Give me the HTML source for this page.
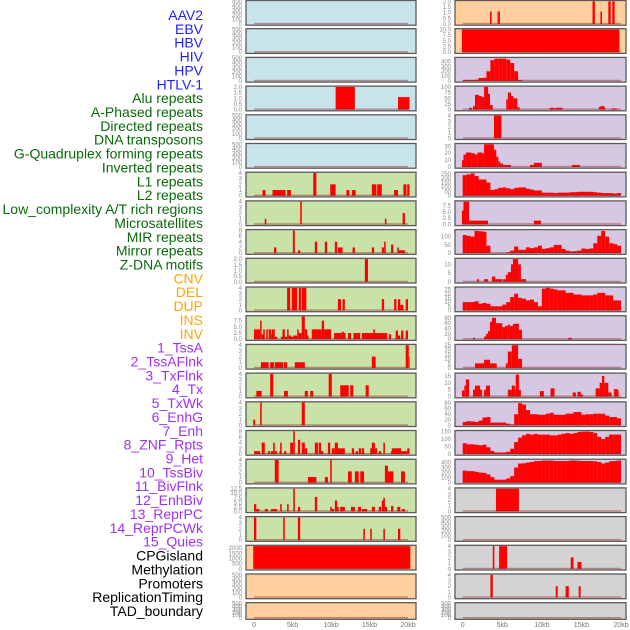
<!DOCTYPE html>
<html><head><meta charset="utf-8"><style>
html,body{margin:0;padding:0;background:#fff;width:630px;height:630px;overflow:hidden}
svg{display:block;font-family:"Liberation Sans",sans-serif}
</style></head><body>
<svg id="chart" width="630" height="630" viewBox="0 0 630 630" xmlns="http://www.w3.org/2000/svg"></svg>
<script>
// ---------- labels ----------
const labelNames = ["AAV2","EBV","HBV","HIV","HPV","HTLV-1","Alu repeats","A-Phased repeats","Directed repeats","DNA transposons","G-Quadruplex forming repeats","Inverted repeats","L1 repeats","L2 repeats","Low_complexity A/T rich regions","Microsatellites","MIR repeats","Mirror repeats","Z-DNA motifs","CNV","DEL","DUP","INS","INV","1_TssA","2_TssAFlnk","3_TxFlnk","4_Tx","5_TxWk","6_EnhG","7_Enh","8_ZNF_Rpts","9_Het","10_TssBiv","11_BivFlnk","12_EnhBiv","13_ReprPC","14_ReprPCWk","15_Quies","CPGisland","Methylation","Promoters","ReplicationTiming","TAD_boundary"];
const labelGroups = [6,13,5,15,5];
const groupColors = ["#1f1fff","#0a6a0a","#ffa500","#a030f0","#000000"];

// ---------- axis ----------
const xTicks = [0,5,10,15,20];
const xTickLabels = ["0","5kb","10kb","15kb","20kb"];

// ---------- tick sets ----------
const t500 = [0,100,200,300,400,500];
const t4 = [0,1,2,3,4];
const t2 = [0,0.5,1,1.5,2];
const t8 = [0,2,4,6,8];

// ---------- left column data: [startKb, endKb, value] ----------
const left03 = [[10.6,13.1,2],[18.7,20.2,1.1]];
const left06 = [[1.1,1.5,1],[2.4,4.1,1],[4.3,4.8,1],[7.7,8.1,4],[9.9,10.6,2],[12.0,12.4,1],[12.7,13.2,1],[15.3,15.9,2],[16.0,16.6,2],[18.2,18.7,1],[19.4,19.8,2],[19.9,20.2,2]];
const left07 = [[1.4,1.6,1],[6.0,6.2,4],[17.0,17.2,1],[19.3,19.6,2]];
const left08 = [[2.6,2.9,2],[5.05,5.3,8],[5.7,6.0,1],[7.9,8.2,4],[9.2,9.5,4],[10.5,10.8,4],[10.9,11.5,2],[12.8,13.1,2],[15.3,15.6,2],[16.6,16.9,2],[16.9,17.1,4],[17.8,18.1,3],[18.6,18.8,2],[18.8,19.6,1]];
const left09 = [[14.4,14.8,2]];
const left10 = [[4.3,4.7,4],[4.9,5.6,4],[5.8,6.1,4],[6.2,6.8,4],[10.9,11.3,2],[11.5,11.8,2],[16.6,16.9,2],[18.2,18.5,2],[18.7,19.0,2],[19.0,19.4,1],[19.7,20.0,2]];
const left11 = [[0,0.4,4],[0.4,0.8,4],[0.8,1.0,7.5],[1.0,1.3,2],[1.2,1.4,4],[1.6,1.8,4],[1.9,2.2,4],[2.2,2.3,2],[2.3,2.7,4],[2.7,3.0,1],[3.5,3.8,1],[3.7,4.0,4],[4.0,4.3,1],[4.3,4.5,4],[4.5,4.8,1.5],[4.8,5.1,1],[5.1,5.6,1.5],[5.6,5.8,4],[5.8,6.2,2.5],[6.2,6.6,9.2],[6.6,6.9,4],[6.9,7.1,1.5],[7.5,8.3,4],[8.3,8.8,4],[8.8,9.1,7.5],[9.1,10.0,4],[10.4,11.4,2.5],[11.4,11.7,3],[11.7,11.9,2.5],[12.2,12.6,2.5],[12.9,13.8,2.5],[14.0,17.3,2.5],[15.5,15.7,4],[17.5,17.8,2],[18.4,18.7,3.5],[18.7,19.0,1.5],[19.1,19.4,3.5],[19.7,20.0,3.5]];
const left12 = [[0.9,1.9,1],[2.1,2.6,1],[2.7,3.8,1],[3.9,4.3,1],[5.3,6.6,1],[15.3,15.8,2],[19.7,20.1,4],[20.1,20.2,2]];
const left13 = [[0.3,1.0,1],[2.1,2.5,4],[3.9,4.4,1],[6.6,7.0,1],[7.3,7.7,1],[9.7,10.1,4],[11.2,12.3,2],[12.5,12.9,2],[14.5,14.9,2]];
const left14 = [[-0.1,0.15,1],[0.8,1.0,4],[6.2,6.6,4]];
const left15 = [[0,0.4,1],[0.4,0.8,1],[1.0,1.4,4],[1.8,2.1,1],[2.2,2.5,1],[2.5,2.7,4],[2.7,3.0,1],[3.3,3.5,1],[3.4,3.6,4],[3.9,4.2,1],[4.7,5.1,4],[5.1,5.3,8],[5.7,6.0,5],[6.2,6.6,4],[6.6,6.9,2],[7.9,8.3,4],[8.4,8.7,4],[8.7,9.0,1],[9.6,9.9,4],[10.1,10.5,2],[10.5,10.9,4],[10.9,11.8,2],[12.7,13.0,2],[13.2,13.5,1],[13.6,13.9,2],[14.0,14.3,2],[15.1,15.5,2],[15.3,15.7,4],[15.7,16.0,2],[16.2,16.5,1],[16.8,17.0,4],[17.8,18.0,1],[17.9,19.1,2],[19.1,19.9,1],[19.9,20.2,2]];
const left16 = [[2.7,3.2,4],[7.0,8.1,1],[9.2,9.6,1],[9.9,10.1,4],[12.2,12.7,2],[13.1,13.6,2],[13.8,14.3,2],[17.0,17.4,3],[17.4,18.1,2],[19.1,19.6,2]];
const left17 = [[0,0.3,4],[0.3,0.7,1.3],[1.4,1.8,1.3],[2.2,3.0,1.3],[3.4,3.6,4],[4.3,4.5,4],[5.1,5.3,12.5],[5.7,6.0,2.5],[7.9,8.2,8],[9.9,10.1,2.5],[10.1,10.4,1.3],[10.5,10.8,6],[10.8,11.0,2.5],[11.2,11.8,2.5],[12.6,13.1,2.5],[13.5,13.9,2.5],[14.0,14.7,1.3],[15.3,15.7,2.5],[16.2,16.5,2.5],[16.6,16.9,6],[16.8,17.0,7.5],[17.0,17.3,2.5],[17.8,18.1,3],[18.6,19.0,2.5],[19.2,19.6,1.3]];
const left18 = [[0,0.3,4],[3.8,4.0,4],[5.7,6.0,4],[14.2,14.4,2],[15.1,15.3,2],[16.8,17.0,2],[18.7,19.0,2]];
const left19 = [[-0.1,20.3,2200]];

// ---------- right column data ----------
const right00 = [[3.45,3.65,1.1],[4.4,4.5,1.1],[4.5,4.7,1.1],[16.4,16.7,2],[17.4,17.6,1.1],[18.4,18.7,2],[18.9,19.2,2]];
const right01 = [[-0.1,19.8,10]];
// binned profiles: 0.5kb bins from 0 to 20kb
const right02Bins = [20,20,20,25,60,65,200,430,460,460,460,440,370,200,20,0,0,0,0,0,0,0,0,0,0,0,0,0,0,0,0,0,0,0,0,0,0,0,0,0];
const right03 = [[0.8,1.2,8],[1.3,1.55,15],[1.55,2.05,65],[2.05,2.4,60],[2.4,2.7,55],[2.7,3.2,100],[3.2,3.45,70],[3.45,3.8,20],[5.5,5.7,45],[5.7,6.1,75],[6.1,6.4,60],[6.4,6.9,50],[6.9,7.2,10],[11.0,11.6,8],[11.7,12.6,8],[17.2,17.4,12],[17.4,17.9,15],[17.9,18.0,10],[18.8,19.5,5]];
const right04 = [[3.95,4.9,4]];
const right05 = [[-0.1,0.1,10],[0.1,0.4,18],[0.4,1.1,21],[1.1,1.55,20],[1.55,1.85,18],[1.85,2.45,21],[2.45,2.7,20],[2.7,3.95,33],[3.95,4.25,25],[4.25,4.5,15],[4.5,4.75,8],[4.75,5.1,5],[5.1,6.1,3],[8.5,9.0,3],[9.0,10.0,6],[13.8,14.8,3]];
const right06Bins = [235,245,255,225,185,185,150,65,75,90,95,85,75,90,95,95,80,70,60,60,35,35,35,30,35,35,35,40,40,45,45,45,45,40,35,30,30,30,25,30];
const right07 = [[-0.1,0.1,5.5],[0.1,0.8,9],[0.8,3.2,1.5],[9.0,9.9,1.5]];
const right08Bins = [110,105,100,135,133,130,45,0,0,0,0,5,15,40,20,20,35,30,35,45,25,30,35,50,50,25,15,10,12,15,28,25,28,60,105,135,100,60,55,45];
const right09 = [[1.8,2.05,1.5],[2.7,3.2,1.5],[3.7,4.1,3],[4.1,5.0,1.5],[5.1,5.45,1.5],[5.45,5.7,4],[5.7,6.1,5.5],[6.1,6.35,10],[6.35,7.0,13],[7.0,7.35,10],[7.35,8.0,1.5]];
const right10Bins = [10,10,10,11,8,9,8,5,5,5,7,10,16,20,15,14,12,13,10,5,26,27,26,25,24,24,21,21,19,19,18,18,18,19,21,21,18,18,12,12];
const right11 = [[1.3,1.55,5],[2.7,2.95,10],[2.95,3.2,20],[3.2,3.45,30],[3.45,3.7,65],[3.7,4.2,80],[4.2,5.0,60],[5.0,5.35,45],[5.35,5.7,50],[5.7,5.95,55],[5.95,6.35,50],[6.35,6.6,57],[6.6,7.1,58],[7.1,7.5,35],[13.3,13.8,5]];
const right12 = [[1.55,2.7,5],[2.7,3.45,9],[3.45,4.3,5],[5.45,5.7,5],[5.7,6.2,18],[6.2,7.0,25],[7.0,7.5,10]];
const right13 = [[-0.1,0.2,4.5],[0.2,0.4,8],[0.4,0.8,12.5],[1.3,1.55,5],[1.55,2.2,8],[2.2,2.45,5],[2.7,2.95,5],[2.95,3.45,8],[5.7,6.2,5],[6.2,6.6,8],[6.6,6.7,5],[6.7,7.1,16],[7.1,7.35,5],[9.75,10.25,4],[11.1,11.6,6],[13.9,14.3,3],[14.5,14.9,3.5],[14.9,15.2,1.5],[16.8,17.3,6],[17.3,17.6,10],[17.6,17.9,15],[17.9,18.4,10],[18.4,18.8,3],[19.1,19.5,5.5],[19.5,19.7,5]];
const right14Bins = [12,15,14,12,17,28,30,10,10,10,10,6,3,40,80,75,55,40,40,38,38,42,45,38,38,38,42,42,48,48,38,40,40,42,42,42,35,30,30,25];
const right15Bins = [72,65,65,62,58,62,45,20,10,10,10,15,35,80,110,125,135,130,135,130,130,130,125,125,130,135,140,135,140,148,150,150,148,140,115,100,115,130,130,130];
const right16Bins = [240,230,230,215,200,195,165,110,60,60,60,85,130,300,380,385,400,410,430,430,440,440,440,430,430,430,430,440,440,435,430,430,430,425,410,380,400,425,430,440];
const right17 = [[4.2,7.1,4]];
const right19 = [[3.8,4.0,4],[4.6,5.6,4],[13.65,14.0,2],[14.5,15.0,1.2]];
const right20 = [[3.5,3.8,4],[11.75,12.0,2],[13.0,13.4,2],[14.65,14.9,2]];

function binsToSegs(b){ return b.map((v,i)=>[i*0.5,i*0.5+0.5,v]).filter(s=>s[2]>0); }

const BLUE="#c8e4eb", GREEN="#c8e2a8", ORANGE="#ffd09e", PURPLE="#d6c7e3", GREY="#d3d3d3";
const leftPanels = [
 [BLUE,t500,500,[]],[BLUE,t500,500,[]],[BLUE,t500,500,[]],[BLUE,t2,2,left03],[BLUE,t500,500,[]],[BLUE,t500,500,[]],
 [GREEN,t4,4,left06],[GREEN,t4,4,left07],[GREEN,t8,8,left08],[GREEN,t2,2,left09],[GREEN,t4,4,left10],
 [GREEN,[0,2.5,5,7.5],9.2,left11],[GREEN,t4,4,left12],[GREEN,t4,4,left13],[GREEN,t4,4,left14],[GREEN,t8,8,left15],
 [GREEN,t4,4,left16],[GREEN,[0,2.5,5,7.5,10,12.5],12.5,left17],[GREEN,t4,4,left18],
 [ORANGE,[0,500,1000,1500,2000],2200,left19],[ORANGE,t500,500,[]],[ORANGE,t500,500,[]]
];
const rightPanels = [
 [ORANGE,t2,2,right00],[ORANGE,[0,2.5,5,7.5,10],10,right01],[PURPLE,[0,100,200,300,400],470,binsToSegs(right02Bins)],
 [PURPLE,[0,25,50,75,100],100,right03],[PURPLE,t4,4,right04],[PURPLE,[0,10,20,30],33,right05],
 [PURPLE,[0,50,100,150,200,250],260,binsToSegs(right06Bins)],[PURPLE,[0,2.5,5,7.5],9,right07],
 [PURPLE,[0,50,100],138,binsToSegs(right08Bins)],[PURPLE,[0,5,10],13,right09],
 [PURPLE,[0,5,10,15,20,25],27,binsToSegs(right10Bins)],[PURPLE,[0,20,40,60,80],85,right11],
 [PURPLE,[0,5,10,15,20,25],25,right12],[PURPLE,[0,5,10,15],16.5,right13],
 [PURPLE,[0,20,40,60,80],82,binsToSegs(right14Bins)],[PURPLE,[0,50,100,150],152,binsToSegs(right15Bins)],
 [PURPLE,[0,100,200,300,400],450,binsToSegs(right16Bins)],[GREY,t4,4,right17],[GREY,t500,500,[]],
 [GREY,t4,4,right19],[GREY,t4,4,right20],[GREY,t500,500,[]]
];

const NS="http://www.w3.org/2000/svg";
const svg=document.getElementById('chart');
function mk(tag,attrs,parent){const e=document.createElementNS(NS,tag);for(const k in attrs)e.setAttribute(k,attrs[k]);(parent||svg).appendChild(e);return e;}

// labels
let gi=0, cnt=0;
labelNames.forEach((name,i)=>{
  while(cnt>=labelGroups[gi]){cnt=0;gi++;}
  cnt++;
  const t=mk('text',{x:203,y:(15+i*13.86+5).toFixed(1),'text-anchor':'end','font-size':'14',fill:groupColors[gi]});
  
  
  t.textContent=name;
});

const cols=[{fx:246,fw:170,x0:254,x1:408},{fx:455,fw:171,x0:462.7,x1:621}];
function fmt(v,ticks){return ticks.some(t=>t%1!==0)?v.toFixed(1):String(v);}

[leftPanels,rightPanels].forEach((panels,ci)=>{
  const c=cols[ci];
  const xs=kb=>c.x0+(kb/20)*(c.x1-c.x0);
  panels.forEach((p,r)=>{
    const [bg,ticks,ymax,segs]=p;
    const top=r===0?0.5:r*28.7;
    const h=r===21?16.6:24.7;
    const g=mk('g',{});
    
    
    const fr=mk('rect',{x:c.fx,y:top,width:c.fw,height:h,fill:bg,stroke:'#5a5a5a','stroke-width':1.3},g);
    
    
    const yb=top+h-1.2, yt=top+0.8;
    const ys=v=>yb-(v/ymax)*(yb-yt);
    segs.forEach(s=>{
      const x=xs(s[0]), w=Math.max(0.8,xs(s[1])-xs(s[0]));
      const y=ys(Math.min(s[2],ymax));
      const b=mk('rect',{x:x.toFixed(2),y:y.toFixed(2),width:w.toFixed(2),height:(yb-y).toFixed(2),fill:'#ff0000'},g);
      
      
    });
    const zl=mk('line',{x1:xs(0),x2:xs(20),y1:yb-0.4,y2:yb-0.4,stroke:'rgba(150,30,30,0.45)','stroke-width':1.4},g);
    
    
    ticks.forEach(tv=>{
      const tl=mk('text',{x:c.fx-4,y:(ys(tv)+2).toFixed(1),'text-anchor':'end','font-size':'6',fill:'#8a8a8a'},g);
      
      
      tl.textContent=fmt(tv,ticks);
    });
  });
  xTicks.forEach((kb,i)=>{
    const t=mk('text',{x:xs(kb).toFixed(1),y:627,'text-anchor':'middle','font-size':'7',fill:'#777'});
    
    
    t.textContent=xTickLabels[i];
  });
});
</script>
</body></html>
